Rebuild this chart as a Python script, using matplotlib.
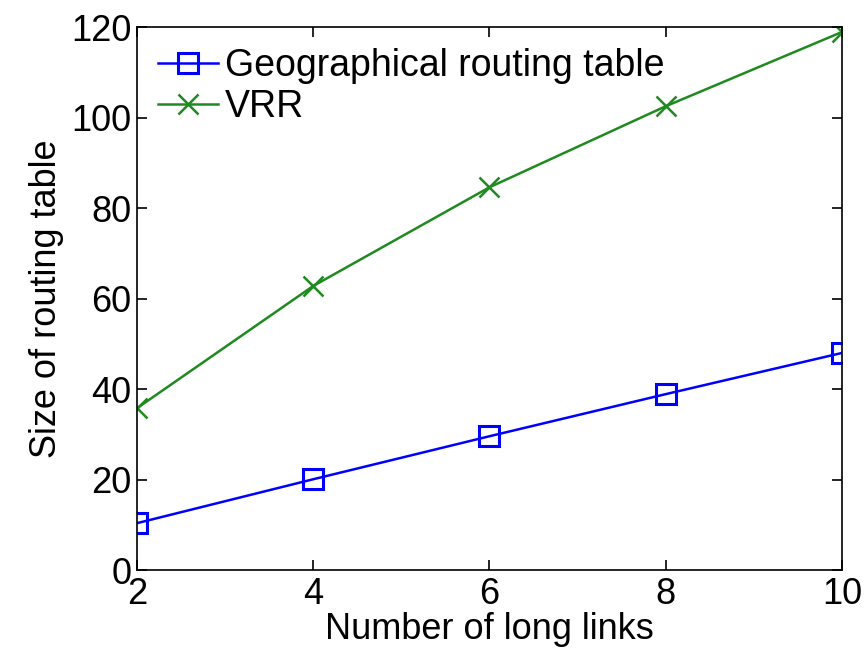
import matplotlib
matplotlib.use("Agg")
import matplotlib.pyplot as plt

plt.rcParams["font.family"] = ["Liberation Sans", "DejaVu Sans"]

long_links = [2, 4, 6, 8, 10]
geo_table = [10.4, 20.1, 29.6, 38.9, 48.0]
vrr_table = [35.8, 62.8, 84.6, 102.5, 118.9]

fig = plt.figure(figsize=(8.67, 6.6), dpi=100)
ax = fig.add_axes([0.158, 0.136, 0.813, 0.823])

ax.plot(long_links, geo_table, color="#0000ff", linewidth=1.8, marker="s",
        markersize=14, markerfacecolor="none", markeredgewidth=2.2,
        label="Geographical routing table")
ax.plot(long_links, vrr_table, color="#1f8a1f", linewidth=1.8, marker="x",
        markersize=14, markeredgewidth=1.8, label="VRR")

ax.set_xlim(2, 10)
ax.set_ylim(0, 120)
ax.set_xticks([2, 4, 6, 8, 10])
ax.set_yticks([0, 20, 40, 60, 80, 100, 120])
ax.tick_params(direction="in", top=True, right=True, length=7, width=1.2,
               labelsize=26)
ax.tick_params(axis="x", pad=5)
ax.tick_params(axis="y", pad=4)
for spine in ax.spines.values():
    spine.set_linewidth(1.2)
ax.set_xlabel("Number of long links", fontsize=26, labelpad=0)
ax.set_ylabel("Size of routing table", fontsize=26, labelpad=5)

ax.legend(loc="upper left", frameon=False, fontsize=27, handlelength=1.6,
          handletextpad=0.2, labelspacing=0.15, borderaxespad=0.25,
          borderpad=0.3)

fig.savefig("out.png", dpi=100)
